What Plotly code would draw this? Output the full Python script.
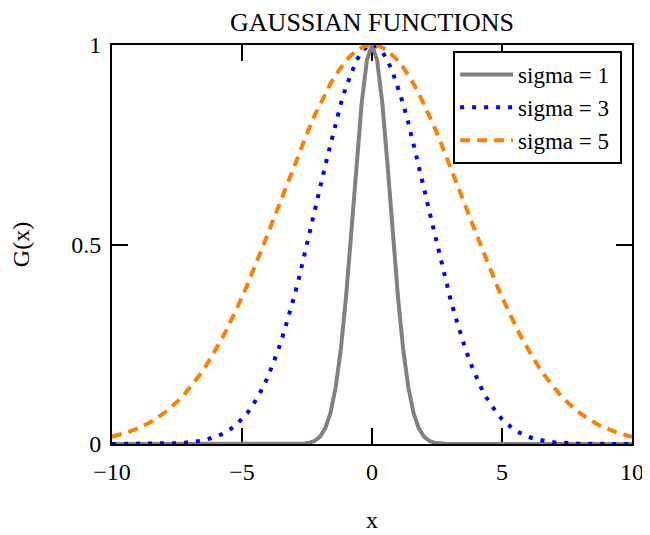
import plotly.graph_objects as go

# x sample positions (step 0.2)
x_vals = [
    -10.0, -9.8, -9.6, -9.4, -9.2, -9.0, -8.8, -8.6, -8.4, -8.2,
    -8.0, -7.8, -7.6, -7.4, -7.2, -7.0, -6.8, -6.6, -6.4, -6.2,
    -6.0, -5.8, -5.6, -5.4, -5.2, -5.0, -4.8, -4.6, -4.4, -4.2,
    -4.0, -3.8, -3.6, -3.4, -3.2, -3.0, -2.8, -2.6, -2.4, -2.2,
    -2.0, -1.8, -1.6, -1.4, -1.2, -1.0, -0.8, -0.6, -0.4, -0.2,
    0.0,
    0.2, 0.4, 0.6, 0.8, 1.0, 1.2, 1.4, 1.6, 1.8, 2.0,
    2.2, 2.4, 2.6, 2.8, 3.0, 3.2, 3.4, 3.6, 3.8, 4.0,
    4.2, 4.4, 4.6, 4.8, 5.0, 5.2, 5.4, 5.6, 5.8, 6.0,
    6.2, 6.4, 6.6, 6.8, 7.0, 7.2, 7.4, 7.6, 7.8, 8.0,
    8.2, 8.4, 8.6, 8.8, 9.0, 9.2, 9.4, 9.6, 9.8, 10.0,
]

g_sigma1 = [
    0, 0, 0, 0, 0, 0, 0, 0, 0, 0,
    0, 0, 0, 0, 0, 0, 0, 0, 0, 0,
    0, 0, 0, 0, 0, 0, 0, 0, 0, 0,
    0, 0, 0, 0, 0, 0.0001, 0.0004, 0.0012, 0.0032, 0.0079,
    0.0183, 0.0392, 0.0773, 0.1409, 0.2369, 0.3679, 0.5273, 0.6977, 0.8521, 0.9608,
    1.0,
    0.9608, 0.8521, 0.6977, 0.5273, 0.3679, 0.2369, 0.1409, 0.0773, 0.0392, 0.0183,
    0.0079, 0.0032, 0.0012, 0.0004, 0.0001, 0, 0, 0, 0, 0,
    0, 0, 0, 0, 0, 0, 0, 0, 0, 0,
    0, 0, 0, 0, 0, 0, 0, 0, 0, 0,
    0, 0, 0, 0, 0, 0, 0, 0, 0, 0,
]

g_sigma3 = [
    0.0000, 0.0000, 0.0000, 0.0001, 0.0001, 0.0001, 0.0002, 0.0003, 0.0004, 0.0006,
    0.0008, 0.0012, 0.0016, 0.0023, 0.0032, 0.0043, 0.0059, 0.0079, 0.0106, 0.0140,
    0.0183, 0.0238, 0.0307, 0.0392, 0.0496, 0.0622, 0.0773, 0.0953, 0.1164, 0.1409,
    0.1690, 0.2010, 0.2369, 0.2768, 0.3205, 0.3679, 0.4185, 0.4718, 0.5273, 0.5841,
    0.6412, 0.6977, 0.7524, 0.8043, 0.8521, 0.8948, 0.9314, 0.9608, 0.9824, 0.9956,
    1.0000,
    0.9956, 0.9824, 0.9608, 0.9314, 0.8948, 0.8521, 0.8043, 0.7524, 0.6977, 0.6412,
    0.5841, 0.5273, 0.4718, 0.4185, 0.3679, 0.3205, 0.2768, 0.2369, 0.2010, 0.1690,
    0.1409, 0.1164, 0.0953, 0.0773, 0.0622, 0.0496, 0.0392, 0.0307, 0.0238, 0.0183,
    0.0140, 0.0106, 0.0079, 0.0059, 0.0043, 0.0032, 0.0023, 0.0016, 0.0012, 0.0008,
    0.0006, 0.0004, 0.0003, 0.0002, 0.0001, 0.0001, 0.0001, 0.0000, 0.0000, 0.0000,
]

g_sigma5 = [
    0.0183, 0.0215, 0.0251, 0.0292, 0.0339, 0.0392, 0.0452, 0.0519, 0.0595, 0.0679,
    0.0773, 0.0877, 0.0992, 0.1119, 0.1257, 0.1409, 0.1573, 0.1751, 0.1943, 0.2149,
    0.2369, 0.2604, 0.2852, 0.3115, 0.3390, 0.3679, 0.3979, 0.4290, 0.4610, 0.4938,
    0.5273, 0.5612, 0.5955, 0.6298, 0.6639, 0.6977, 0.7308, 0.7631, 0.7942, 0.8240,
    0.8521, 0.8784, 0.9027, 0.9246, 0.9440, 0.9608, 0.9747, 0.9857, 0.9936, 0.9984,
    1.0000,
    0.9984, 0.9936, 0.9857, 0.9747, 0.9608, 0.9440, 0.9246, 0.9027, 0.8784, 0.8521,
    0.8240, 0.7942, 0.7631, 0.7308, 0.6977, 0.6639, 0.6298, 0.5955, 0.5612, 0.5273,
    0.4938, 0.4610, 0.4290, 0.3979, 0.3679, 0.3390, 0.3115, 0.2852, 0.2604, 0.2369,
    0.2149, 0.1943, 0.1751, 0.1573, 0.1409, 0.1257, 0.1119, 0.0992, 0.0877, 0.0773,
    0.0679, 0.0595, 0.0519, 0.0452, 0.0392, 0.0339, 0.0292, 0.0251, 0.0215, 0.0183,
]

series_names = ["sigma = 1", "sigma = 3", "sigma = 5"]

x_tickvals = [-10, -5, 0, 5, 10]
y_tickvals = [0, 0.5, 1]
y_ticktext = ["0", "0.5", "1"]

FONT = "Times New Roman, Liberation Serif, serif"
PAD = "\u00a0"  # right padding inside the legend box

fig = go.Figure()
fig.add_trace(go.Scatter(x=x_vals, y=g_sigma1, mode="lines", name=series_names[0] + PAD,
                         line=dict(color="#808080", width=4), cliponaxis=False))
fig.add_trace(go.Scatter(x=x_vals, y=g_sigma3, mode="lines", name=series_names[1] + PAD,
                         line=dict(color="#0000FF", width=4, dash="4px,8px"), cliponaxis=False))
fig.add_trace(go.Scatter(x=x_vals, y=g_sigma5, mode="lines", name=series_names[2] + PAD,
                         line=dict(color="#FF8000", width=4, dash="10px,7px"), cliponaxis=False))

axis_common = dict(
    showline=True, linewidth=2, linecolor="black", mirror="ticks",
    ticks="inside", ticklen=16, tickwidth=2, tickcolor="black",
    showgrid=False, zeroline=False, layer="below traces", automargin=False,
    tickfont=dict(family=FONT, size=24, color="black"),
)

fig.update_layout(
    width=650, height=535,
    margin=dict(l=104, r=26, t=37, b=99),
    plot_bgcolor="white", paper_bgcolor="white",
    font=dict(family=FONT, size=24, color="black"),
    title=dict(text="GAUSSIAN FUNCTIONS", font=dict(family=FONT, size=26, color="black"),
               x=0.5, xref="paper", xanchor="center", y=1 - 14 / 535, yanchor="middle",
               automargin=False),
    xaxis=dict(range=[-10, 10], tickvals=x_tickvals, ticklabelstandoff=5,
               title=dict(text="x", standoff=27, font=dict(family=FONT, size=24)),
               **axis_common),
    yaxis=dict(range=[0, 1], tickvals=y_tickvals, ticktext=y_ticktext, ticklabelstandoff=4,
               title=dict(text="G(x)", standoff=40, font=dict(family=FONT, size=24)),
               **axis_common),
    legend=dict(x=0.656, y=0.985, xanchor="left", yanchor="top",
                bordercolor="black", borderwidth=2, bgcolor="white",
                font=dict(family=FONT, size=23, color="black"),
                tracegroupgap=0, itemwidth=53),
    showlegend=True,
)

fig.write_html("out.html")
